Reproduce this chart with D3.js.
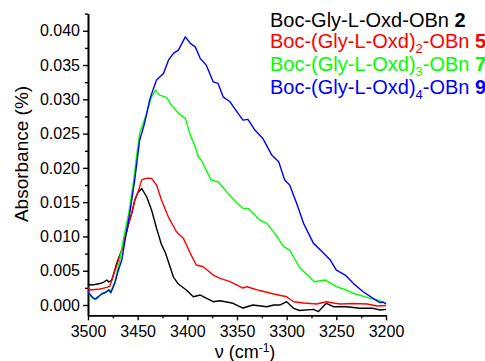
<!DOCTYPE html>
<html>
<head>
<meta charset="utf-8">
<script src="https://cdn.jsdelivr.net/npm/d3@7"></script>
<style>
  body { margin: 0; background: #fff; }
  svg { display: block; }
  text { font-family: Arial, "Liberation Sans", sans-serif; }
</style>
</head>
<body>
<svg id="chart"></svg>
<script>
var width = 485,
	height = 361;

// wavenumbers (cm-1) and absorbance, one pair of arrays per compound
var nu2 = [3500, 3498, 3493, 3488, 3484, 3481, 3479, 3476, 3471, 3466, 3459, 3456, 3453, 3450, 3446, 3441, 3436, 3431, 3426, 3422, 3419, 3414, 3409, 3401, 3394, 3387, 3384, 3374, 3367, 3354, 3344, 3334, 3320, 3313, 3307, 3300, 3293, 3287, 3273, 3268, 3260, 3253, 3240, 3226, 3213, 3206, 3200];
var abs2 = [0.00313, 0.00292, 0.00299, 0.00313, 0.00335, 0.00365, 0.00335, 0.00365, 0.00612, 0.00802, 0.01191, 0.01337, 0.01531, 0.01633, 0.01701, 0.01579, 0.01385, 0.01120, 0.00880, 0.00758, 0.00627, 0.00408, 0.00306, 0.00219, 0.00121, 0.00146, 0.00121, 0.00048, 0.00063, 0.00025, -0.00044, 0.00000, -0.00025, 0.00000, 0.00000, 0.00048, -0.00048, -0.00080, -0.00063, -0.00095, 0.00025, -0.00025, -0.00025, -0.00048, -0.00048, -0.00073, -0.00063];

var nu5 = [3500, 3498, 3493, 3488, 3481, 3478, 3475, 3470, 3466, 3459, 3456, 3453, 3449, 3446, 3443, 3439, 3436, 3431, 3426, 3422, 3419, 3411, 3404, 3397, 3391, 3384, 3374, 3367, 3357, 3344, 3340, 3327, 3313, 3300, 3293, 3283, 3270, 3260, 3253, 3246, 3233, 3219, 3209, 3200];
var abs5 = [0.00255, 0.00219, 0.00226, 0.00233, 0.00258, 0.00277, 0.00408, 0.00627, 0.00802, 0.01191, 0.01337, 0.01516, 0.01676, 0.01822, 0.01844, 0.01851, 0.01847, 0.01749, 0.01531, 0.01385, 0.01283, 0.01069, 0.00972, 0.00754, 0.00583, 0.00558, 0.00437, 0.00389, 0.00340, 0.00248, 0.00267, 0.00211, 0.00160, 0.00121, 0.00048, 0.00030, 0.00015, 0.00048, 0.00029, 0.00015, 0.00022, 0.00015, -0.00015, -0.00007];

var nu7 = [3500, 3498, 3495, 3491, 3486, 3481, 3479, 3477, 3473, 3468, 3464, 3459, 3454, 3451, 3448, 3444, 3441, 3436, 3432, 3428, 3421, 3416, 3409, 3402, 3397, 3392, 3389, 3386, 3376, 3369, 3359, 3350, 3344, 3339, 3327, 3320, 3312, 3303, 3297, 3287, 3272, 3261, 3250, 3240, 3233, 3219, 3209, 3200];
var abs7 = [0.00197, 0.00146, 0.00098, 0.00087, 0.00171, 0.00194, 0.00229, 0.00194, 0.00340, 0.00656, 0.00991, 0.01337, 0.01822, 0.02187, 0.02503, 0.02668, 0.02795, 0.03036, 0.03134, 0.03061, 0.03028, 0.02916, 0.02795, 0.02722, 0.02478, 0.02308, 0.02162, 0.02114, 0.01822, 0.01798, 0.01628, 0.01483, 0.01410, 0.01410, 0.01239, 0.01191, 0.01045, 0.00850, 0.00802, 0.00547, 0.00340, 0.00364, 0.00267, 0.00219, 0.00171, 0.00112, 0.00073, 0.00025];

var nu9 = [3500, 3496, 3493, 3490, 3486, 3483, 3479, 3477, 3473, 3470, 3466, 3462, 3458, 3453, 3448, 3444, 3441, 3438, 3434, 3431, 3424, 3419, 3414, 3409, 3402, 3397, 3392, 3387, 3381, 3374, 3369, 3364, 3357, 3350, 3344, 3339, 3332, 3324, 3315, 3308, 3302, 3297, 3290, 3283, 3273, 3266, 3256, 3250, 3241, 3233, 3223, 3213, 3206, 3203, 3200];
var abs9 = [0.00190, 0.00121, 0.00083, 0.00121, 0.00160, 0.00179, 0.00219, 0.00179, 0.00316, 0.00481, 0.00656, 0.01006, 0.01337, 0.01822, 0.02405, 0.02599, 0.02784, 0.02988, 0.03163, 0.03280, 0.03378, 0.03571, 0.03669, 0.03717, 0.03911, 0.03815, 0.03765, 0.03596, 0.03499, 0.03255, 0.03232, 0.03036, 0.02964, 0.02818, 0.02697, 0.02707, 0.02551, 0.02430, 0.02187, 0.02089, 0.01822, 0.01749, 0.01483, 0.01191, 0.00899, 0.00802, 0.00656, 0.00510, 0.00437, 0.00316, 0.00194, 0.00098, 0.00034, 0.00044, 0.00015];

var seriesNames = ["Boc-Gly-L-Oxd-OBn", "Boc-(Gly-L-Oxd)", "Boc-(Gly-L-Oxd)", "Boc-(Gly-L-Oxd)"];
var seriesSubs = ["", "2", "3", "4"];
var seriesNumbers = ["2", "5", "7", "9"];
var seriesColors = ["#000000", "#ff0000", "#00ff00", "#0000ff"];

var xMajor = [3500, 3450, 3400, 3350, 3300, 3250, 3200];
var xMinor = [3475, 3425, 3375, 3325, 3275, 3225];
var yMajor = [0.000, 0.005, 0.010, 0.015, 0.020, 0.025, 0.030, 0.035, 0.040];
var yMinor = [0.0025, 0.0075, 0.0125, 0.0175, 0.0225, 0.0275, 0.0325, 0.0375, 0.0425];

var series = [
	{ nu: nu2, abs: abs2 },
	{ nu: nu5, abs: abs5 },
	{ nu: nu7, abs: abs7 },
	{ nu: nu9, abs: abs9 }
];

var svg = d3.select("#chart")
	.attr("width", width)
	.attr("height", height);

var x = d3.scaleLinear().domain([3500, 3200]).range([88, 386]);
var y = d3.scaleLinear().domain([-0.0015, 0.0425]).range([315.3, 13.6]);

// axes: major ticks with labels, minor ticks without
svg.append("g")
	.attr("transform", "translate(0," + y(-0.0015) + ")")
	.call(d3.axisBottom(x).tickValues(xMajor).tickSize(5).tickPadding(5).tickSizeOuter(0).tickFormat(d3.format("d")));
svg.append("g")
	.attr("transform", "translate(0," + y(-0.0015) + ")")
	.call(d3.axisBottom(x).tickValues(xMinor).tickSize(3).tickSizeOuter(0).tickFormat(""));

svg.append("g")
	.attr("transform", "translate(" + x(3500) + ",0)")
	.call(d3.axisLeft(y).tickValues(yMajor).tickSize(5).tickPadding(3).tickSizeOuter(0).tickFormat(d3.format(".3f")));
svg.append("g")
	.attr("transform", "translate(" + x(3500) + ",0)")
	.call(d3.axisLeft(y).tickValues(yMinor).tickSize(3).tickSizeOuter(0).tickFormat(""));

svg.selectAll(".domain").attr("stroke", "#000").attr("stroke-width", 1.6);
svg.selectAll(".tick line").attr("stroke", "#000").attr("stroke-width", 1.4);
svg.selectAll(".tick text")
	.attr("fill", "#000")
	.style("font-size", "16px")
	.style("font-family", "Arial, 'Liberation Sans', sans-serif");

// axis titles
svg.append("text")
	.attr("transform", "translate(28,154) rotate(-90)")
	.attr("text-anchor", "middle")
	.style("font-size", "19px")
	.text("Absorbance (%)");

var xt = svg.append("text")
	.attr("x", (x(3500) + x(3200)) / 2 + 8)
	.attr("y", 358)
	.attr("text-anchor", "middle")
	.style("font-size", "18px");
xt.append("tspan").text("\u03bd (cm");
xt.append("tspan").attr("dy", -6).style("font-size", "12px").text("-1");
xt.append("tspan").attr("dy", 6).text(")");

// spectra
var line = d3.line()
	.x(function(d) { return x(d[0]); })
	.y(function(d) { return y(d[1]); });

svg.append("g").selectAll("path")
	.data(series)
	.enter()
	.append("path")
	.attr("d", function(s) {
		return line(s.nu.map(function(n, i) { return [n, s.abs[i]]; }));
	})
	.attr("fill", "none")
	.attr("stroke", function(s, i) { return seriesColors[i]; })
	.attr("stroke-width", 1.4)
	.attr("stroke-linejoin", "round");

// legend
var legendY = [27, 48, 71, 93.5];
var legend = svg.append("g");
seriesNames.forEach(function(name, i) {
	var t = legend.append("text")
		.attr("x", 270)
		.attr("y", legendY[i])
		.attr("fill", seriesColors[i])
		.style("font-size", "20px");
	t.append("tspan").text(name);
	if (seriesSubs[i]) {
		t.append("tspan").attr("dy", 5).style("font-size", "13px").text(seriesSubs[i]);
		t.append("tspan").attr("dy", -5).text("-OBn");
	}
	t.append("tspan").style("font-weight", "bold").text(" " + seriesNumbers[i]);
});
</script>
</body>
</html>
